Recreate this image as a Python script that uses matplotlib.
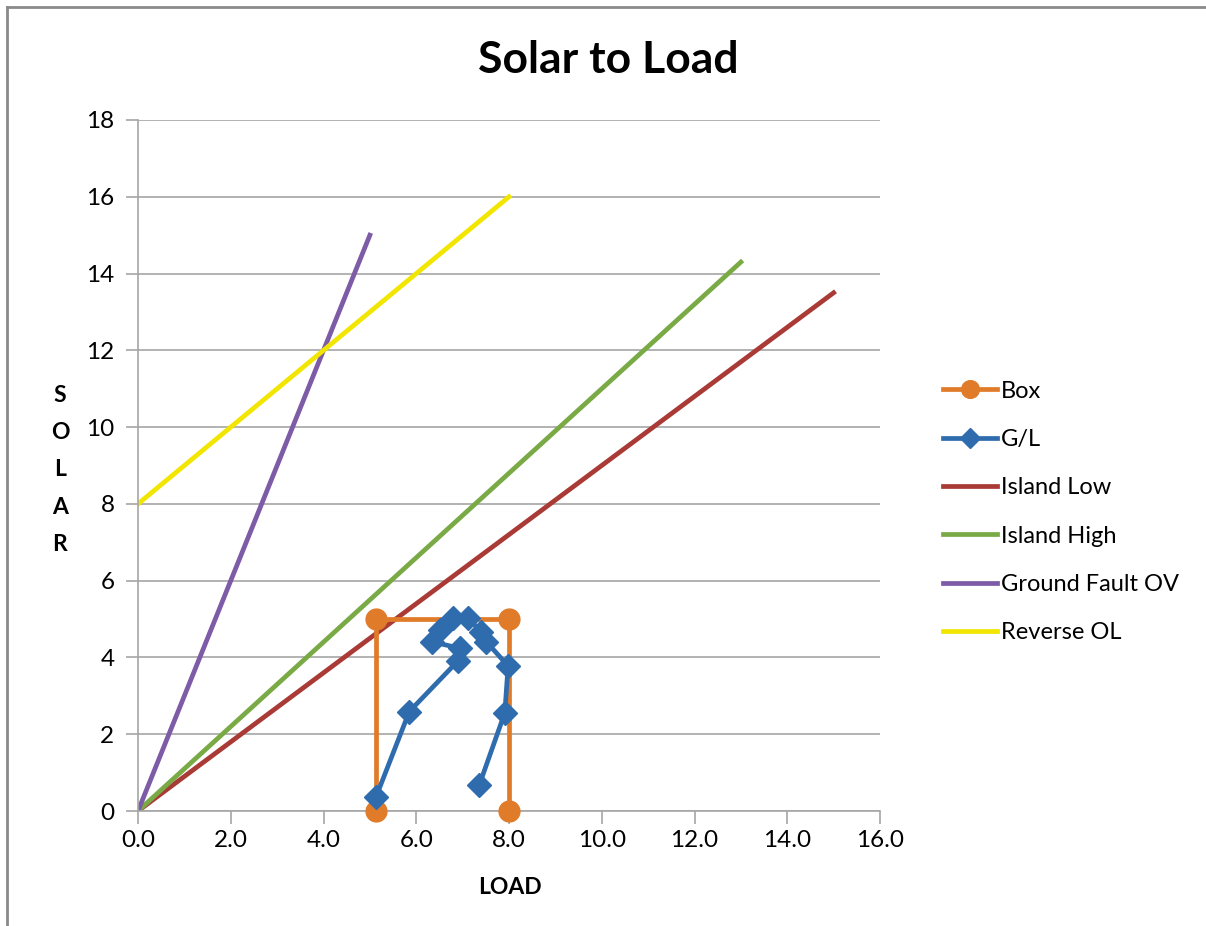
import matplotlib
matplotlib.use("Agg")
import matplotlib.pyplot as plt
from matplotlib.lines import Line2D

plt.rcParams['font.family'] = ['Lato', 'DejaVu Sans']

# Data
box_x = [5.13, 5.13, 8.0, 8.0]
box_y = [0.0, 5.0, 5.0, 0.0]

gl_x = [5.13, 5.85, 6.90, 6.94, 6.33, 6.51, 6.80, 7.12, 7.40, 7.51, 7.98, 7.91, 7.36]
gl_y = [0.36, 2.59, 3.91, 4.24, 4.41, 4.71, 5.02, 5.02, 4.67, 4.41, 3.78, 2.56, 0.68]

island_low_x = [0, 15]
island_low_y = [0, 13.5]
island_high_x = [0, 13]
island_high_y = [0, 14.3]
gfov_x = [0, 5]
gfov_y = [0, 15]
rev_x = [0, 8]
rev_y = [8, 16]

xticks = [0, 2, 4, 6, 8, 10, 12, 14, 16]
yticks = [0, 2, 4, 6, 8, 10, 12, 14, 16, 18]

c_box = '#E07B2A'
c_gl = '#2F6CAE'
c_low = '#A93A35'
c_high = '#7AAA45'
c_gf = '#7D5BA6'
c_rev = '#F2E600'

fig = plt.figure(figsize=(12.06, 9.26), dpi=100)
ax = fig.add_axes([138/1206, 1 - 811/926, 742/1206, 691/926])

lw = 3.4
ax.plot(box_x, box_y, color=c_box, lw=lw, marker='o', ms=15, zorder=3, label='Box',
        clip_on=False)
ax.plot(gl_x, gl_y, color=c_gl, lw=lw, marker='D', ms=12.5, zorder=4, label='G/L',
        clip_on=False)
ax.plot(island_low_x, island_low_y, color=c_low, lw=lw, zorder=2, label='Island Low')
ax.plot(island_high_x, island_high_y, color=c_high, lw=lw, zorder=2, label='Island High')
ax.plot(gfov_x, gfov_y, color=c_gf, lw=lw, zorder=2, label='Ground Fault OV')
ax.plot(rev_x, rev_y, color=c_rev, lw=lw, zorder=2, label='Reverse OL')

ax.set_xlim(0, 16)
ax.set_ylim(0, 18)
ax.set_xticks(xticks)
ax.set_xticklabels([f'{v:.1f}' for v in xticks])
ax.set_yticks(yticks)
ax.set_yticklabels([str(v) for v in yticks])
ax.grid(axis='y', color='#A6A6A6', lw=1.2)
ax.set_axisbelow(True)
for s in ['top', 'right']:
    ax.spines[s].set_visible(False)
for s in ['left', 'bottom']:
    ax.spines[s].set_color('#A6A6A6')
    ax.spines[s].set_linewidth(1.2)
ax.tick_params(axis='both', colors='#A6A6A6', labelcolor='black', labelsize=17.5,
               length=9, width=1.2, direction='out')
ax.tick_params(axis='x', pad=5)
ax.tick_params(axis='y', pad=8)

fig.text(608/1206, 1 - 60/926, 'Solar to Load', ha='center', va='center',
         fontsize=32, fontweight='bold')
fig.text(510/1206, 1 - 887/926, 'LOAD', ha='center', va='center',
         fontsize=16.5, fontweight='bold')
fig.text(60/1206, 1 - 470/926, 'S\nO\nL\nA\nR', ha='center', va='center',
         fontsize=16.5, fontweight='bold', linespacing=1.95)

leg = ax.legend(loc='center left', bbox_to_anchor=(934/1206, 1 - 512/926),
                bbox_transform=fig.transFigure, frameon=False, fontsize=17,
                handlelength=2.25, labelspacing=1.16, handletextpad=0.2, borderaxespad=0,
                markerscale=0.85)

# outer frame (left and top edges visible)
fig.add_artist(Line2D([7/1206, 7/1206], [0, 1 - 7/926], color='#8A8A8A', lw=2,
                      transform=fig.transFigure))
fig.add_artist(Line2D([7/1206, 1], [1 - 7/926, 1 - 7/926], color='#8A8A8A', lw=2,
                      transform=fig.transFigure))

fig.savefig('out.png', dpi=100)
